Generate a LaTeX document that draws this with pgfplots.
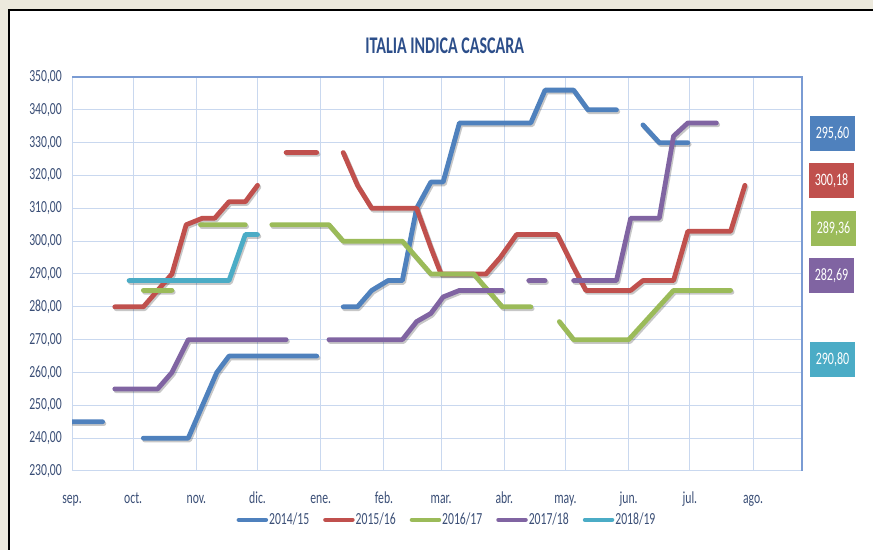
\documentclass[border=0pt]{standalone}
\usepackage{fontspec}
\setmainfont{Carlito}[FakeStretch=0.69]
\newfontfamily\titlefont{Carlito}[FakeStretch=0.67]
\usepackage{pgfplots}
\usepackage{pgfplotstable}
\pgfplotsset{compat=1.18}
\definecolor{cBlue}{HTML}{4F81BD}
\definecolor{cRed}{HTML}{C0504D}
\definecolor{cGreen}{HTML}{9BBB59}
\definecolor{cPurple}{HTML}{8064A2}
\definecolor{cCyan}{HTML}{4BACC6}
\definecolor{gridblue}{HTML}{C9D8EF}
\definecolor{axisblue}{HTML}{7A9BD3}
\definecolor{txt}{RGB}{58,78,118}
\definecolor{ttl}{RGB}{44,78,138}
\definecolor{beige}{HTML}{ECE9DD}

\pgfplotstableread{
x y
0 245
15 245
16 nan
35 240
57 240
64 250
71 260
77 265
120 265
121 nan
133 280
140 280
147 285
155 288
162 288
169 310
176 318
182 318
190 336
225 336
232 346
246 346
253 340
267 340
268 nan
280 335.4
288 330
302 330
}\blueT

\pgfplotstableread{
x y
21 280
35 280
42 285
49 290
56 305
64 307
70 307
77 312
85 312
91 317
92 nan
105 327
120 327
121 nan
133 327
140 317
147 310
169 310
176 298
181 290
203 290
210 295
218 302
238 302
246 292
252 285
274 285
280 288
295 288
302 303
323 303
330 317
}\redT

\pgfplotstableread{
x y
35 285
49 285
50 nan
63 305
85 305
86 nan
98 305
126 305
133 300
162 300
176 290
197 290
211 280
225 280
226 nan
239 275.5
246 270
273 270
295 285
323 285
}\greenT

\pgfplotstableread{
x y
21 255
42 255
49 260
57 270
105 270
106 nan
126 270
162 270
169 275.5
176 278
182 283
190 285
211 285
212 nan
224 288
232 288
233 nan
246 288
267 288
274 307
288 307
295 332
302 336
316 336
}\purpleT

\pgfplotstableread{
x y
28 288
77 288
85 302
91 302
}\cyanT

\begin{document}
\begin{tikzpicture}[x=1bp,y=1bp]
\useasboundingbox (0,0) rectangle (873,550);
\fill[beige] (0,0) rectangle (873,550);
\fill[white] (9,0) rectangle (873,540);
\draw[black, line width=2bp] (9,0) -- (9,540) -- (873,540);

\node[text=ttl, font=\titlefont\bfseries\fontsize{24}{27}\selectfont] at (444.7,504.5) {ITALIA INDICA CASCARA};

\begin{axis}[
  at={(72bp,79bp)}, anchor=south west,
  width=730bp, height=394bp, scale only axis,
  xmin=0, xmax=358, ymin=230, ymax=350,
  xtick={0,30,61,91,122,153,181,212,242,273,303,334},
  xticklabels={sep.,oct.,nov.,dic.,ene.,feb.,mar.,abr.,may.,jun.,jul.,ago.},
  ytick={230,240,...,350},
  major tick length=0pt,
  grid=major,
  major grid style={color=gridblue, line width=1bp},
  axis line style={color=gridblue, line width=1bp},
  unbounded coords=jump,
  tick label style={text=txt, font=\fontsize{17}{19}\selectfont},
  xticklabel style={anchor=center, yshift=-29bp, text height=1.6ex, text depth=0.3ex},
  yticklabel style={anchor=east, inner sep=0pt, xshift=-10bp,
    /pgf/number format/.cd, fixed, fixed zerofill, precision=2, use comma, 1000 sep={}, assume math mode=true},
  legend columns=5,
  legend style={at={(0.513,-0.124)}, anchor=center, draw=none, fill=none,
    font=\fontsize{17}{19}\selectfont, text=txt,
    /tikz/every even column/.append style={column sep=13bp},
    nodes={inner sep=1bp}},
  legend image code/.code={\draw[#1, line width=4.5bp, line cap=round] (0bp,0bp) -- (27bp,0bp);},
  every axis plot/.append style={line width=4.8bp, line join=round, line cap=round},
  shadow/.style={forget plot, black, opacity=0.22, xshift=1.3bp, yshift=-1.8bp},
]
\addplot[shadow] table {\blueT};
\addplot[shadow] table {\redT};
\addplot[shadow] table {\greenT};
\addplot[shadow] table {\purpleT};
\addplot[shadow] table {\cyanT};
\addplot[cBlue] table {\blueT};
\addplot[cRed] table {\redT};
\addplot[cGreen] table {\greenT};
\addplot[cPurple] table {\purpleT};
\addplot[cCyan] table {\cyanT};
\legend{2014/15,2015/16,2016/17,2017/18,2018/19}
\end{axis}
\draw[axisblue, line width=1.2bp] (72,473) -- (802,473) -- (802,79);

\tikzset{valbox/.style={text=white, minimum width=45bp, minimum height=35bp, inner sep=0pt, font=\fontsize{17.5}{19}\selectfont}}
\node[valbox, fill=cBlue] at (832.5,416.5) {295,60};
\node[valbox, fill=cRed] at (831.5,369) {300,18};
\node[valbox, fill=cGreen] at (833.5,321.5) {289,36};
\node[valbox, fill=cPurple] at (831.5,274) {282,69};
\node[valbox, fill=cCyan] at (832.5,190.5) {290,80};
\end{tikzpicture}
\end{document}
